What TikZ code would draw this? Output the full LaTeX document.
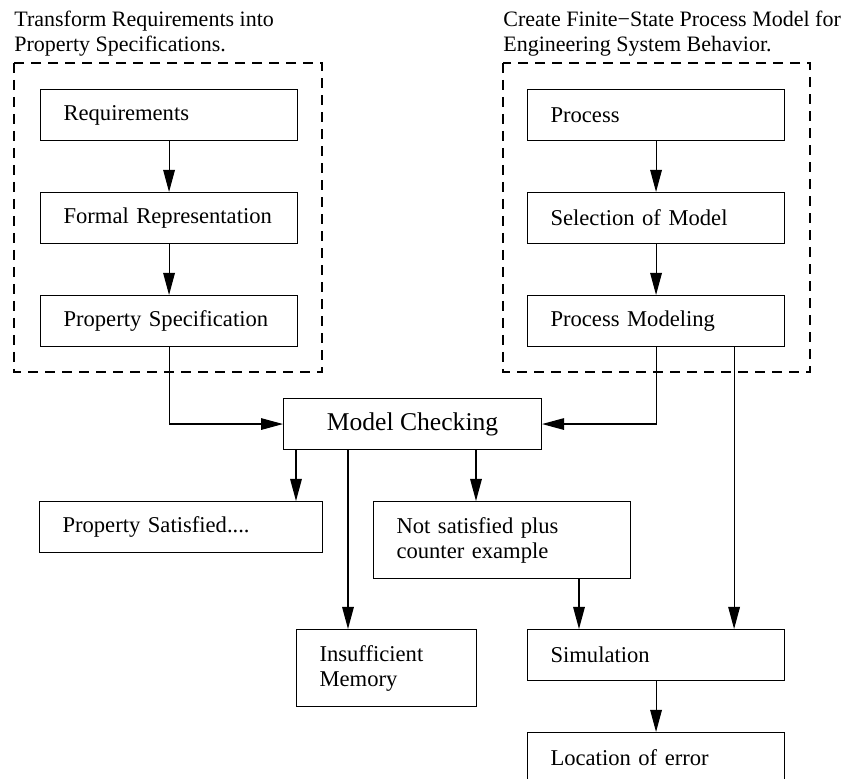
\documentclass[tikz,border=0pt]{standalone}
\usepackage{fontspec}
\setmainfont{Liberation Serif}
\usetikzlibrary{positioning, arrows.meta}

\begin{document}
\begin{tikzpicture}[x=0.5pt, y=-0.5pt,
    box/.style={draw=black, line width=0.55pt, anchor=north west,
      inner xsep=11.5pt, inner ysep=0pt, align=left, text width=#1,
      minimum height=25.5pt, font=\fontsize{11.3}{12.5}\selectfont},
    box/.default=105.5pt,
    tallbox/.style={box=#1, minimum height=38.5pt},
    group/.style={draw=black, line width=1pt, dash pattern=on 5pt off 3.5pt},
    title/.style={anchor=north west, inner sep=0pt, align=left,
      font=\fontsize{11}{12.5}\selectfont},
    arr/.style={draw=black, line width=0.55pt, -{Triangle[length=11pt, width=5.8pt]}}]
  \useasboundingbox (0,0) rectangle (853,779);

  % the two groups
  \draw[group] (14,63) rectangle (322,372);
  \draw[group] (503,63) rectangle (810,372);
  \node[title] (ttlL) at (14,11) {Transform Requirements into\\Property Specifications.};
  \node[title] (ttlR) at (503,11) {Create Finite−State Process Model for\\Engineering System Behavior.};

  % left column
  \node[box] (req) at (40,89) {Requirements};
  \node[box] (formal) at (40,192) {Formal Representation};
  \node[box] (propspec) at (40,295) {Property Specification};

  % right column
  \node[box] (proc) at (527,89) {Process};
  \node[box] (selmodel) at (527,192) {Selection of Model};
  \node[box] (procmod) at (527,295) {Process Modeling};

  % model checking and results
  \node[draw=black, line width=0.55pt, anchor=north west, minimum width=129pt,
    minimum height=25.5pt, font=\fontsize{12.8}{15}\selectfont] (mc) at (283,398) {Model Checking};
  \node[box=118.5pt] (propsat) at (39,501) {Property Satisfied....};
  \node[tallbox=105.5pt] (notsat) at (373,501) {Not satisfied plus\\counter example};
  \node[tallbox=67pt] (insuf) at (296,629) {Insufficient\\Memory};
  \node[box] (sim) at (527,629) {Simulation};
  \node[box] (loc) at (527,732) {Location of error};

  % taps on the box edges
  \coordinate (mcA) at ([xshift=6.5pt]mc.south west);
  \coordinate (mcB) at ([xshift=32.5pt]mc.south west);
  \coordinate (mcC) at ([xshift=96.5pt]mc.south west);
  \coordinate (nsA) at ([xshift=103pt]notsat.south west);
  \coordinate (pmA) at ([xshift=-25.5pt]procmod.south east);

  \draw[arr] (req) -- (formal);
  \draw[arr] (formal) -- (propspec);
  \draw[arr] (proc) -- (selmodel);
  \draw[arr] (selmodel) -- (procmod);
  \draw[arr] (propspec) |- (mc);
  \draw[arr] (procmod) |- (mc);
  \draw[arr] (pmA) -- (pmA |- sim.north);
  \draw[arr] (mcA) -- (mcA |- propsat.north);
  \draw[arr] (mcB) -- (mcB |- insuf.north);
  \draw[arr] (mcC) -- (mcC |- notsat.north);
  \draw[arr] (nsA) -- (nsA |- sim.north);
  \draw[arr] (sim) -- (loc);
\end{tikzpicture}
\end{document}
